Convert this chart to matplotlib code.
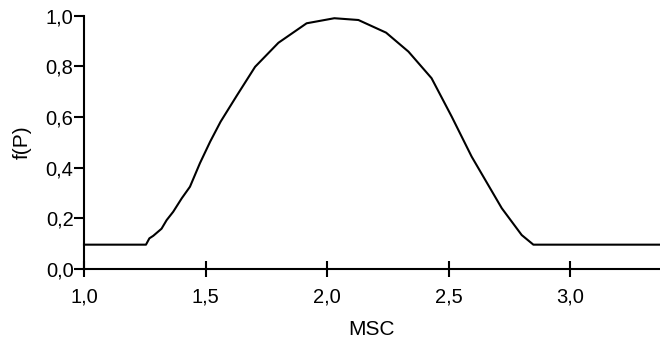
import matplotlib
matplotlib.use("Agg")
import matplotlib.pyplot as plt

plt.rcParams['font.family'] = ['Liberation Sans', 'DejaVu Sans']

msc = [1.00, 1.255, 1.269, 1.285, 1.319, 1.340, 1.367, 1.402, 1.436, 1.477,
       1.519, 1.562, 1.628, 1.704, 1.800, 1.916, 2.030, 2.129, 2.243, 2.335,
       2.430, 2.513, 2.595, 2.671, 2.719, 2.760, 2.801, 2.849, 3.37]
fp = [0.095, 0.095, 0.12, 0.13, 0.158, 0.192, 0.225, 0.278, 0.324, 0.417,
      0.502, 0.581, 0.683, 0.798, 0.893, 0.970, 0.990, 0.983, 0.933, 0.858,
      0.753, 0.601, 0.443, 0.318, 0.239, 0.186, 0.133, 0.095, 0.095]

xticks = [1.0, 1.5, 2.0, 2.5, 3.0]
xtick_labels = ["1,0", "1,5", "2,0", "2,5", "3,0"]
yticks = [0.0, 0.2, 0.4, 0.6, 0.8, 1.0]
ytick_labels = ["0,0", "0,2", "0,4", "0,6", "0,8", "1,0"]

fig = plt.figure(figsize=(6.6, 3.45), dpi=100)
ax = fig.add_axes([84/660, 76.3/345, 576/660, 253/345])
ax.plot(msc, fp, color='black', lw=1.5, clip_on=False)
ax.set_xlim(1.0, 3.37)
ax.set_ylim(0.0, 1.0)
ax.set_xticks(xticks)
ax.set_xticklabels(xtick_labels)
ax.set_yticks(yticks)
ax.set_yticklabels(ytick_labels)
for s in ['top', 'right']:
    ax.spines[s].set_visible(False)
for s in ['left', 'bottom']:
    ax.spines[s].set_linewidth(1.5)
ax.tick_params(axis='x', direction='inout', length=11, width=1.5, labelsize=14.5, pad=8)
ax.tick_params(axis='y', direction='out', length=7, width=1.5, labelsize=14.5, pad=0.5)
ax.set_xlabel("MSC", fontsize=15, labelpad=10)
ax.set_ylabel("f(P)", fontsize=15, labelpad=10)
fig.savefig("out.png", dpi=100)
